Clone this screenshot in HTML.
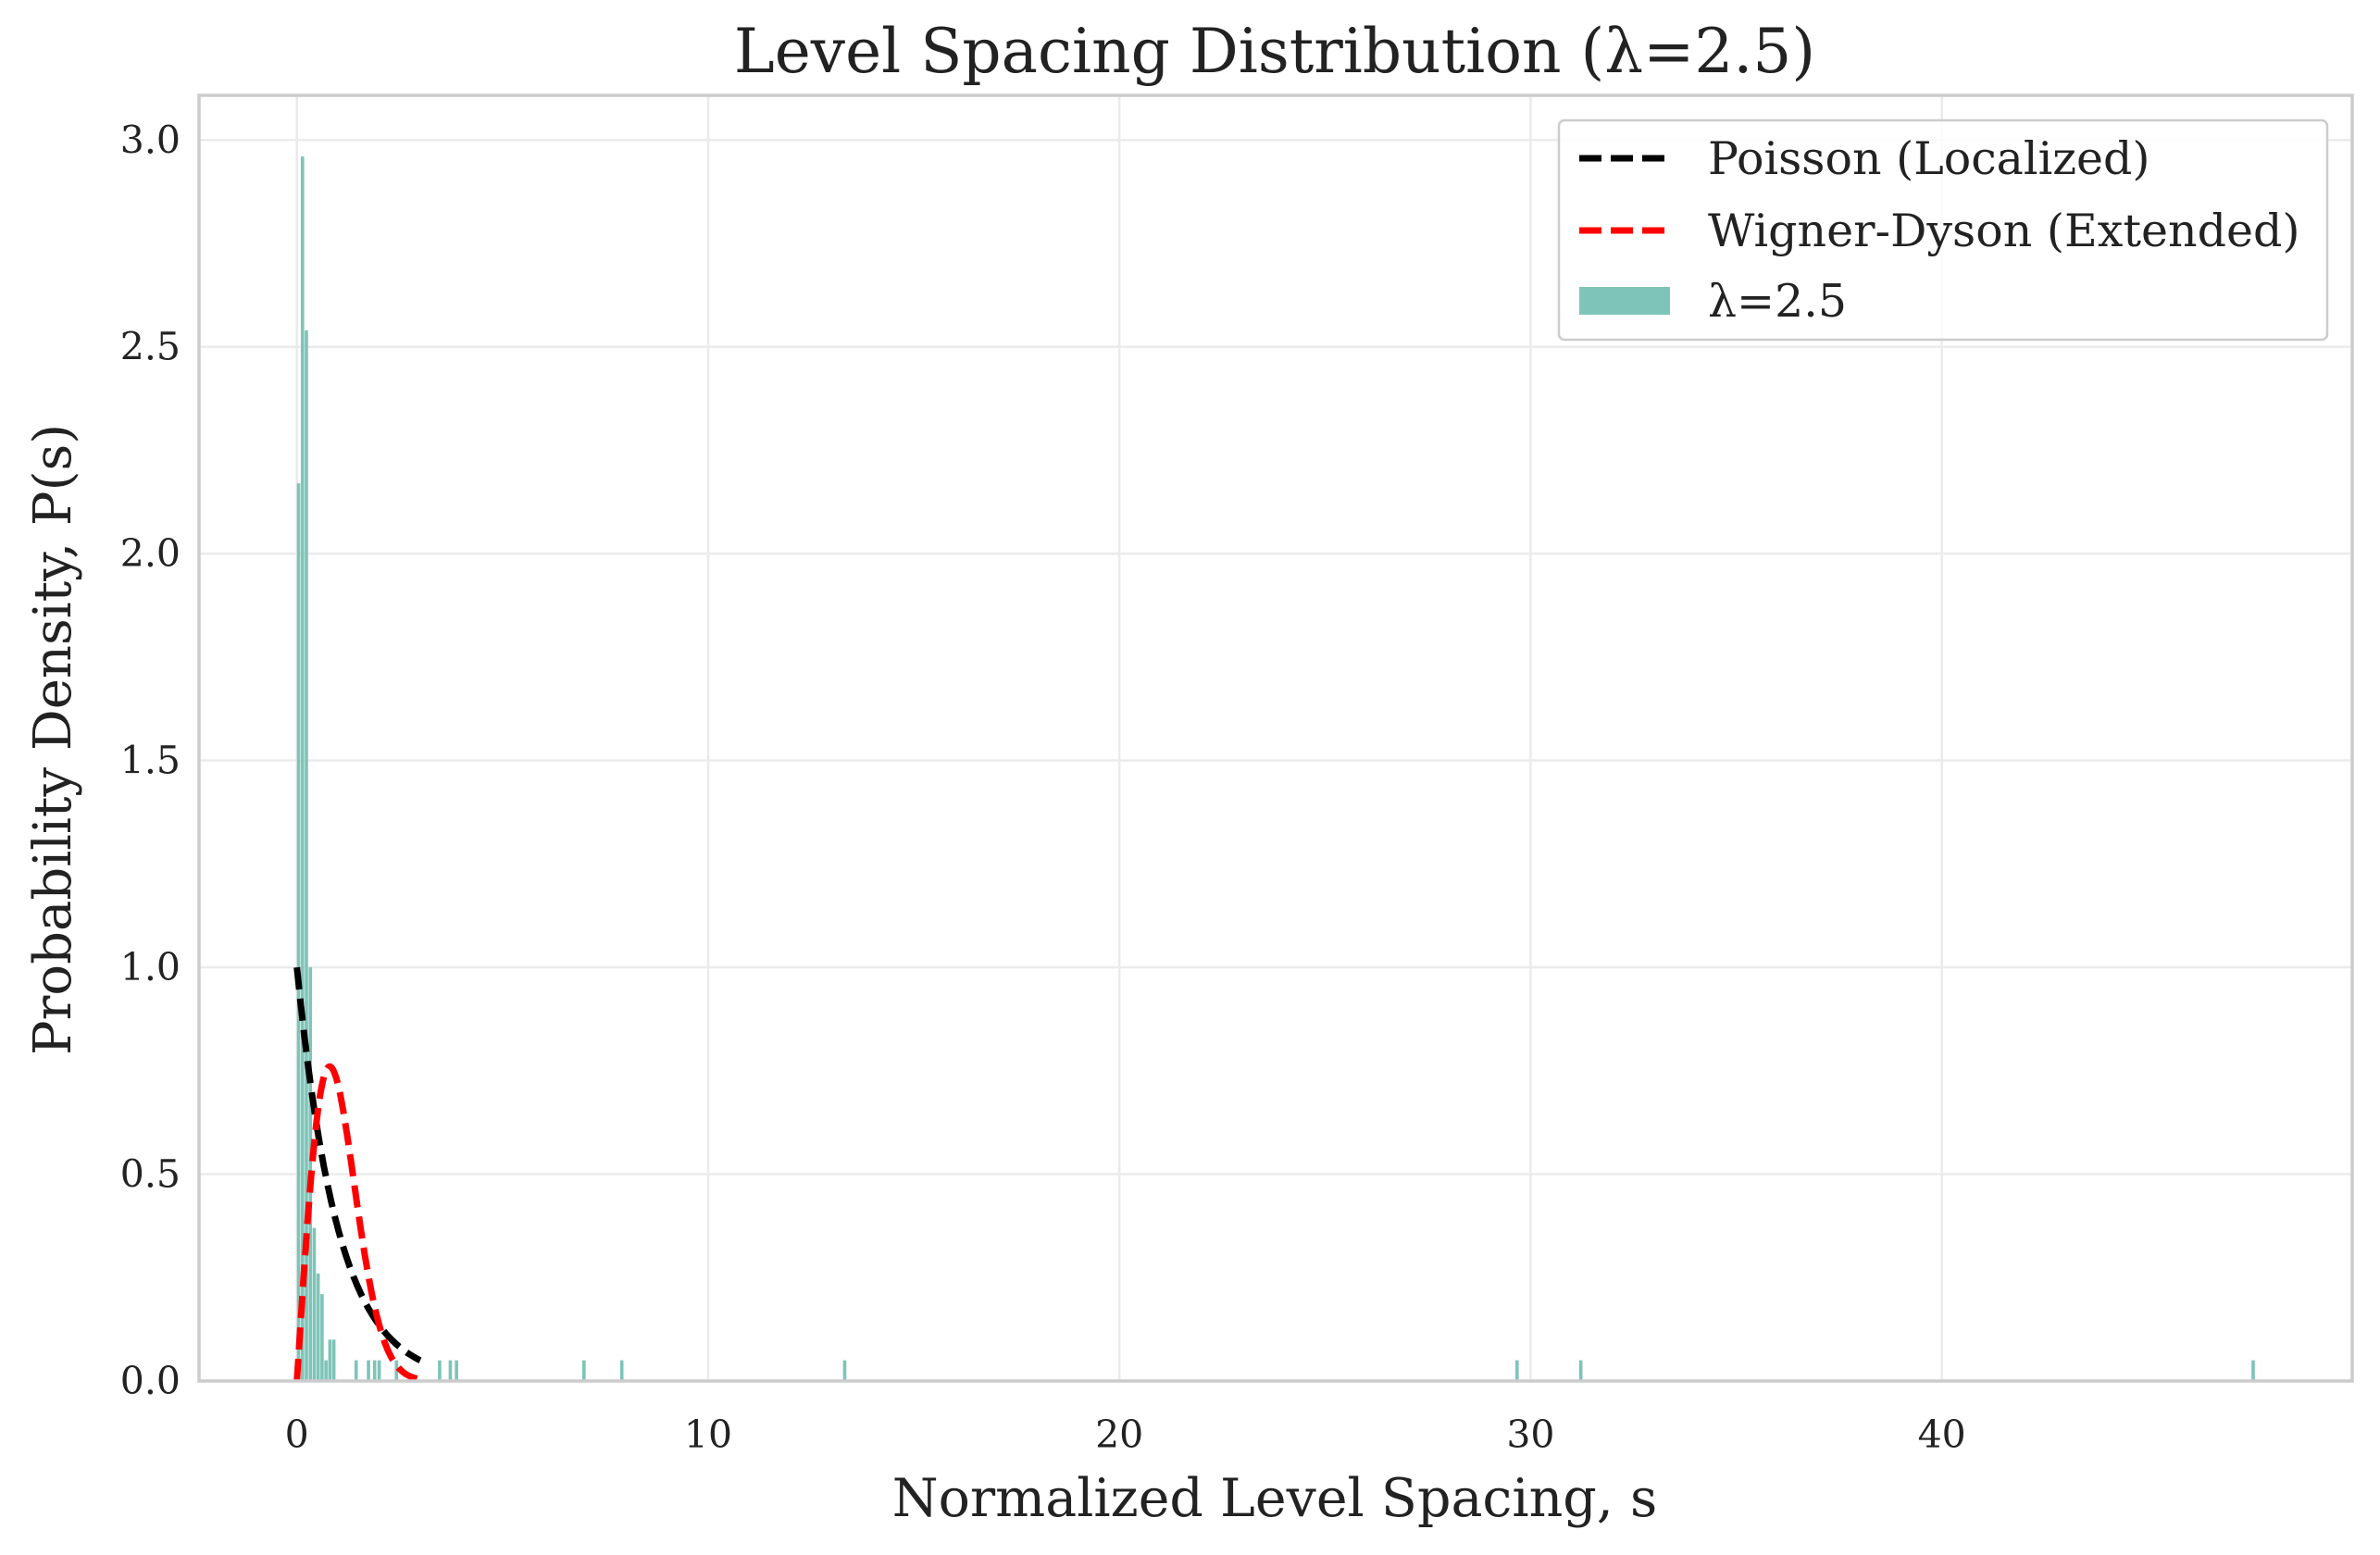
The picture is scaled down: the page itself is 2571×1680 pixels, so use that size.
<!DOCTYPE html>
<html><head><meta charset="utf-8"><style>
html,body{margin:0;padding:0;background:#fff;}
svg{display:block;font-family:"DejaVu Serif","Liberation Serif",serif;}
</style></head><body>
<svg id="chart" width="2571" height="1680" viewBox="0 0 2571 1680" xmlns="http://www.w3.org/2000/svg">
<rect width="2571" height="1680" fill="#fff"/>
<g id="grid"></g>
<g id="bars"></g>
<g id="curves"></g>
<g id="axes"></g>
<text x="1377" y="78" text-anchor="middle" font-size="66" fill="#222">Level Spacing Distribution (λ=2.5)</text>
<text x="1377" y="1638" text-anchor="middle" font-size="57" fill="#222">Normalized Level Spacing, s</text>
<text x="0" y="0" transform="translate(76,799) rotate(-90)" text-anchor="middle" font-size="56" fill="#222">Probability Density, P(s)</text>
<g>
<rect x="1684" y="130" width="830" height="237" rx="6" fill="#fff" fill-opacity="0.85" stroke="#ccc" stroke-width="2.5"/>
<line x1="1706" y1="171" x2="1804" y2="171" stroke="#000" stroke-width="7" stroke-dasharray="24,10"/>
<text x="1845" y="188" font-size="49" fill="#222">Poisson (Localized)</text>
<line x1="1706" y1="249" x2="1804" y2="249" stroke="#f00" stroke-width="7" stroke-dasharray="24,10"/>
<text x="1845" y="266" font-size="49" fill="#222">Wigner-Dyson (Extended)</text>
<rect x="1706" y="310" width="98" height="30" fill="#7ec4b8"/>
<text x="1845" y="342" font-size="49" fill="#222">λ=2.5</text>
</g>
</svg>
<script>
const binWidth = 0.0952;
const binStarts = [0,0.0952,0.1904,0.2856,0.3808,0.476,0.5712,0.6664,0.7616,0.8568,1.40,1.70,1.85,1.96,2.38,3.43,3.69,3.84,6.94,7.86,13.28,29.63,31.18,47.53];
const binDensity = [2.17,2.96,2.54,1.0,0.37,0.26,0.21,0.05,0.10,0.10,0.05,0.05,0.05,0.05,0.05,0.05,0.05,0.05,0.05,0.05,0.05,0.05,0.05,0.05];
const xTicks = [0,10,20,30,40];
const yTicks = [0,0.5,1.0,1.5,2.0,2.5,3.0];
const yTickLabels = ["0.0","0.5","1.0","1.5","2.0","2.5","3.0"];
const curveS = [];
for (let i = 0; i <= 100; i++) curveS.push(3 * i / 100);

const L = 215, R = 2541, T = 103, B = 1492;
const xmin = -2.38, xmax = 49.98, ymin = 0, ymax = 3.108;
const xs = v => L + (v - xmin) / (xmax - xmin) * (R - L);
const ys = v => B - (v - ymin) / (ymax - ymin) * (B - T);
const NS = "http://www.w3.org/2000/svg";
function mk(tag, attrs, parent) {
  const e = document.createElementNS(NS, tag);
  for (const k in attrs) e.setAttribute(k, attrs[k]);
  parent.appendChild(e);
  return e;
}
const grid = document.getElementById('grid');
const axes = document.getElementById('axes');
xTicks.forEach(t => {
  const g = mk('line', {x1: xs(t), x2: xs(t), y1: T, y2: B, stroke: '#ebebeb', 'stroke-width': 2.5}, grid);
  
  
  const tx = mk('text', {x: xs(t), y: 1564, 'text-anchor': 'middle', 'font-size': 41, fill: '#222'}, axes);
  tx.textContent = t;
  
  
});
yTicks.forEach((t, i) => {
  const g = mk('line', {x1: L, x2: R, y1: ys(t), y2: ys(t), stroke: '#ebebeb', 'stroke-width': 2.5}, grid);
  
  
  const tx = mk('text', {x: 195, y: ys(t) + 14, 'text-anchor': 'end', 'font-size': 41, fill: '#222'}, axes);
  tx.textContent = yTickLabels[i];
  
  
});
const bars = document.getElementById('bars');
binStarts.forEach((s, i) => {
  const x0 = xs(s), x1 = xs(s + binWidth);
  const r = mk('rect', {x: x0, y: ys(binDensity[i]), width: Math.max(x1 - x0 - 0.6, 2), height: ys(0) - ys(binDensity[i]), fill: '#7ec4b8'}, bars);
  
  
});
const curves = document.getElementById('curves');
const pois = curveS.map(s => Math.exp(-s));
const wig = curveS.map(s => Math.PI / 2 * s * Math.exp(-Math.PI * s * s / 4));
function path(vals) {
  return curveS.map((s, i) => (i ? 'L' : 'M') + xs(s).toFixed(1) + ',' + ys(vals[i]).toFixed(1)).join('');
}
const pp = mk('path', {d: path(pois), fill: 'none', stroke: '#000', 'stroke-width': 7, 'stroke-dasharray': '24,10'}, curves);


const wp = mk('path', {d: path(wig), fill: 'none', stroke: '#f00', 'stroke-width': 7, 'stroke-dasharray': '24,10'}, curves);


const frame = mk('rect', {x: L, y: T, width: R - L, height: B - T, fill: 'none', stroke: '#cccccc', 'stroke-width': 3.5}, axes);


</script>
</body></html>
